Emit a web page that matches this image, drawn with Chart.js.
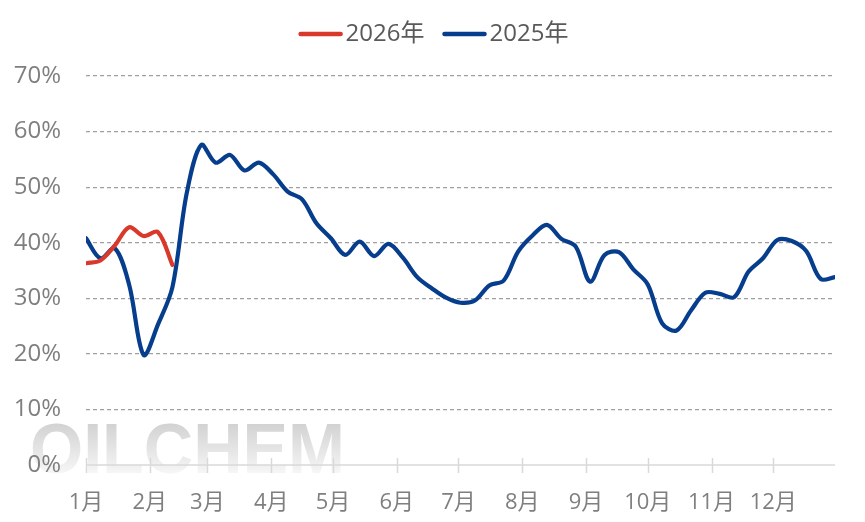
<!DOCTYPE html>
<html>
<head>
<meta charset="utf-8">
<script src="https://cdn.jsdelivr.net/npm/chart.js@4.4.1/dist/chart.umd.min.js"></script>
<style>
html,body{margin:0;padding:0;background:#fff;}
#wrap{width:865px;height:522px;position:relative;}
</style>
</head>
<body>
<div id="wrap"><canvas id="c" width="865" height="522"></canvas></div>
<script>
// ---- data ----
const seriesNames = ['2026年', '2025年'];
const monthLabels = ['1月','2月','3月','4月','5月','6月','7月','8月','9月','10月','11月','12月'];
const monthStartDays = [0,31,59,90,120,151,181,212,243,273,304,334];
const yTickValues = [0,10,20,30,40,50,60,70];
// weekly values (%)
const values2026 = [36.3, 36.8, 39.5, 42.8, 41.2, 41.9, 36.0];
const values2025 = [
  40.8, 37.2, 39.0, 32.4, 19.8, 25.3, 32.0, 49.0, 57.6, 54.4,
  55.8, 53.0, 54.4, 52.3, 49.2, 47.8, 43.5, 40.8, 37.8, 40.2,
  37.6, 39.8, 37.3, 33.8, 31.8, 30.1, 29.2, 29.6, 32.3, 33.2,
  38.4, 41.3, 43.2, 40.7, 39.3, 33.0, 37.8, 38.3, 35.2, 32.5,
  25.5, 24.2, 27.8, 31.0, 30.8, 30.2, 34.8, 37.2, 40.5, 40.3,
  38.5, 33.5, 33.8
];
const DAYS_PER_WEEK = 7;

const colors = ['#d8392b', '#063d8c'];

function toPoints(arr){ return arr.map((v,i)=>({x:i*DAYS_PER_WEEK, y:v})); }

const watermark = {
  id:'watermark',
  beforeDraw(chart){
    const {ctx} = chart;
    ctx.save();
    ctx.font = 'bold 68px "Liberation Sans", Arial, sans-serif';
    const txt = 'OILCHEM';
    const w = ctx.measureText(txt).width;
    const targetW = 315;
    const x0 = 30, base = 473;
    ctx.translate(x0, base);
    ctx.scale(targetW/w, 1.04);
    const g = ctx.createLinearGradient(0, -50, 0, 0);
    g.addColorStop(0, 'rgb(208,208,208)');
    g.addColorStop(1, 'rgb(246,246,246)');
    ctx.fillStyle = g;
    ctx.textBaseline = 'alphabetic';
    ctx.fillText(txt, 0, 0);
    ctx.restore();
  }
};

const crossTicks = {
  id:'crossTicks',
  afterDatasetsDraw(chart){
    const {ctx} = chart;
    const xs = chart.scales.x, ys = chart.scales.y;
    const y0 = ys.getPixelForValue(0);
    ctx.save();
    ctx.strokeStyle = '#d9d9d9';
    ctx.lineWidth = 1.5;
    ctx.beginPath();
    ctx.moveTo(xs.left, y0); ctx.lineTo(xs.right, y0);
    monthStartDays.forEach(d=>{
      const px = Math.round(xs.getPixelForValue(d)) + 0.5;
      ctx.moveTo(px, y0-7); ctx.lineTo(px, y0+8);
    });
    ctx.stroke();
    ctx.restore();
  }
};

const customLegend = {
  id:'customLegend',
  afterDraw(chart){
    const {ctx} = chart;
    ctx.save();
    ctx.font = '24px "Open Sans", "Noto Sans CJK SC", sans-serif';
    const lineW = 44, gap = 3, spacing = 18, cy = 34;
    const items = chart.data.datasets.map(ds=>({text:ds.label, color:ds.borderColor, tw:ctx.measureText(ds.label).width}));
    const total = items.reduce((s,it)=>s+lineW+gap+it.tw,0) + spacing*(items.length-1);
    let x = (chart.width - total)/2 + 1;
    items.forEach(it=>{
      ctx.strokeStyle = it.color; ctx.lineWidth = 4.5; ctx.lineCap = 'round';
      ctx.beginPath(); ctx.moveTo(x+2, cy); ctx.lineTo(x+lineW-2, cy); ctx.stroke();
      x += lineW + gap;
      ctx.fillStyle = '#595959'; ctx.textBaseline = 'middle'; ctx.textAlign = 'left';
      ctx.fillText(it.text, x, cy);
      x += it.tw + spacing;
    });
    ctx.restore();
  }
};

new Chart(document.getElementById('c'), {
  type:'line',
  data:{
    datasets:[
      {label:seriesNames[0], data:toPoints(values2026), borderColor:colors[0], backgroundColor:colors[0]},
      {label:seriesNames[1], data:toPoints(values2025), borderColor:colors[1], backgroundColor:colors[1]}
    ]
  },
  options:{
    responsive:false,
    animation:false,
    devicePixelRatio:1,
    layout:{padding:{top:76, right:30, left:0, bottom:0}},
    elements:{
      line:{borderWidth:4.2, tension:0.33, borderCapStyle:'round', borderJoinStyle:'round', fill:false},
      point:{radius:0, hoverRadius:0}
    },
    plugins:{legend:{display:false}, tooltip:{enabled:false}},
    scales:{
      x:{
        type:'linear', min:0, max:364,
        afterFit(s){ s.height = 57; },
        afterBuildTicks(s){ s.ticks = monthStartDays.map(v=>({value:v})); },
        grid:{display:false, drawTicks:false},
        border:{display:false},
        ticks:{
          autoSkip:false, maxRotation:0, padding:25,
          color:'#7f7f7f',
          font:{size:22, family:'"Open Sans", "Noto Sans CJK SC", sans-serif'},
          callback(v){ const i = monthStartDays.indexOf(v); return i>=0 ? monthLabels[i] : ''; }
        }
      },
      y:{
        min:0, max:70,
        afterFit(s){ s.width = 86; },
        afterBuildTicks(s){ s.ticks = yTickValues.map(v=>({value:v})); },
        border:{display:false, dash:[4,3]},
        grid:{
          drawTicks:false,
          color(c){ return c.tick && c.tick.value===0 ? 'rgba(0,0,0,0)' : '#a0a0a0'; },
          lineWidth:1.2
        },
        ticks:{
          padding:25, color:'#7f7f7f',
          font:{size:24, family:'"Open Sans", "Noto Sans CJK SC", sans-serif'},
          callback(v){ return v + '%'; }
        }
      }
    }
  },
  plugins:[watermark, crossTicks, customLegend]
});
</script>
</body>
</html>
